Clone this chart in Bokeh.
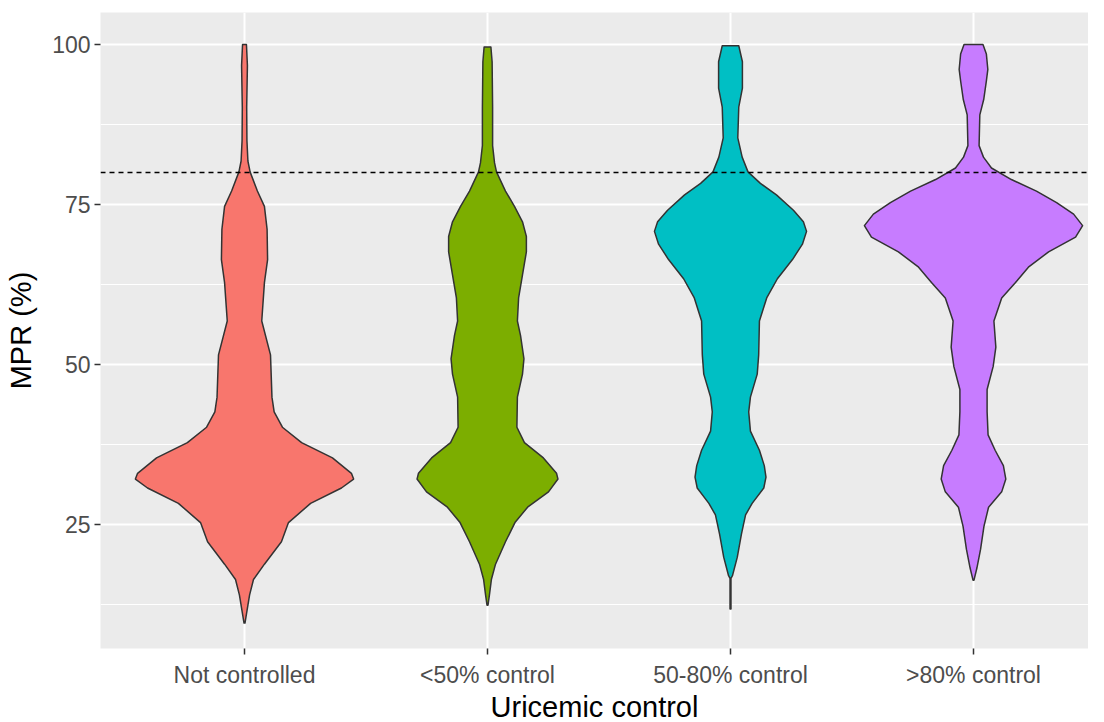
from bokeh.plotting import figure
from bokeh.models import FixedTicker, Span, Range1d
from bokeh.embed import file_html
from bokeh.resources import INLINE

# ---- data ----
categories = ["Not controlled", "<50% control", "50-80% control", ">80% control"]
colors = ["#F8766D", "#7CAE00", "#00BFC4", "#C77CFF"]

# MPR levels (%) and violin half-widths (fraction of one category slot)
mpr_not = [100.0, 96.7, 90.2, 85.0, 81.8, 80.1, 77.1, 74.7, 71.1, 66.4, 62.8, 56.8, 51.5,
           44.9, 42.6, 40.2, 37.8, 35.4, 33.0, 32.1, 30.7, 28.3, 25.3, 22.3, 18.8, 16.4,
           14.0, 11.0, 9.6]
hw_not = [0.008, 0.012, 0.009, 0.010, 0.014, 0.023, 0.053, 0.082, 0.093, 0.095, 0.082,
          0.071, 0.107, 0.113, 0.122, 0.156, 0.235, 0.362, 0.440, 0.449, 0.399, 0.272,
          0.181, 0.152, 0.082, 0.037, 0.021, 0.008, 0.002]

mpr_lt50 = [99.6, 97.3, 90.2, 84.2, 81.5, 80.1, 77.1, 74.7, 72.3, 70.0, 67.6, 64.0, 60.4,
            56.8, 54.5, 50.9, 48.5, 44.9, 40.2, 37.8, 35.4, 33.0, 32.1, 30.1, 27.7, 25.3,
            22.3, 18.8, 16.4, 14.0, 12.4]
hw_lt50 = [0.014, 0.019, 0.021, 0.021, 0.029, 0.037, 0.074, 0.111, 0.144, 0.160, 0.160,
           0.144, 0.128, 0.123, 0.136, 0.150, 0.144, 0.123, 0.121, 0.152, 0.230, 0.284,
           0.290, 0.251, 0.165, 0.113, 0.074, 0.033, 0.016, 0.008, 0.002]

mpr_50_80 = [99.8, 97.3, 93.2, 90.2, 85.4, 82.4, 80.1, 78.3, 76.5, 74.1, 72.3, 70.8, 68.8,
             66.4, 63.4, 60.4, 56.8, 51.5, 48.5, 44.9, 42.6, 39.6, 36.6, 34.2, 32.4, 30.7,
             28.3, 26.5, 23.5, 19.9, 17.0, 16.6, 11.8]
hw_50_80 = [0.034, 0.049, 0.049, 0.034, 0.030, 0.048, 0.072, 0.123, 0.189, 0.259, 0.300,
            0.313, 0.296, 0.255, 0.193, 0.149, 0.119, 0.116, 0.110, 0.082, 0.075, 0.082,
            0.119, 0.139, 0.146, 0.137, 0.089, 0.062, 0.045, 0.028, 0.008, 0.002, 0.002]

mpr_gt80 = [100.0, 98.5, 96.1, 94.3, 91.4, 89.0, 84.2, 82.4, 80.7, 78.9, 77.1, 75.3, 73.5,
            71.7, 69.9, 67.6, 65.2, 62.8, 60.4, 56.8, 52.7, 49.7, 46.1, 42.6, 39.0, 36.6,
            34.2, 32.1, 30.1, 27.7, 24.7, 21.1, 18.2, 16.3]
hw_gt80 = [0.039, 0.053, 0.059, 0.053, 0.042, 0.026, 0.023, 0.041, 0.074, 0.156, 0.259,
           0.342, 0.412, 0.449, 0.420, 0.309, 0.226, 0.173, 0.116, 0.084, 0.092, 0.081,
           0.056, 0.056, 0.060, 0.089, 0.123, 0.133, 0.116, 0.062, 0.043, 0.029, 0.014,
           0.002]

y_ticks = [25, 50, 75, 100]
y_minor = [12.5, 37.5, 62.5, 87.5]
threshold = 80

levels = [mpr_not, mpr_lt50, mpr_50_80, mpr_gt80]
widths = [hw_not, hw_lt50, hw_50_80, hw_gt80]

# ---- figure ----
px_per_unit = 6.4
px_per_cat = 243.0
frame_w = 988
frame_h = 636
y_top = 105.0
x_left = 0.4074
p = figure(frame_width=frame_w, frame_height=frame_h, output_backend="svg",
           toolbar_location=None,
           x_range=Range1d(x_left, x_left + frame_w / px_per_cat),
           y_range=Range1d(y_top - frame_h / px_per_unit, y_top),
           min_border_left=100, min_border_right=0, min_border_top=12, min_border_bottom=0,
           background_fill_color="#EBEBEB", border_fill_color="white",
           outline_line_color=None)

for i, (lv, hw, col) in enumerate(zip(levels, widths, colors)):
    pos = i + 1
    pts = sorted(zip(lv, hw))
    ys = [a for a, _ in pts]
    ws = [b for _, b in pts]
    xs = [pos + w for w in ws] + [pos - w for w in reversed(ws)]
    yy = ys + list(reversed(ys))
    p.patch(xs, yy, fill_color=col, line_color="#333333", line_width=1.5,
            line_join="round")

p.add_layout(Span(location=threshold, dimension="width", line_color="black",
                  line_dash="5 4", line_width=1.4))

# axes
p.xaxis.ticker = FixedTicker(ticks=[1, 2, 3, 4], minor_ticks=[])
p.xaxis.major_label_overrides = {i + 1: c for i, c in enumerate(categories)}
p.yaxis.ticker = FixedTicker(ticks=y_ticks, minor_ticks=y_minor)

for ax in (p.xaxis[0], p.yaxis[0]):
    ax.axis_line_color = None
    ax.major_tick_line_color = "#333333"
    ax.major_tick_line_width = 1.5
    ax.major_tick_out = 6
    ax.major_tick_in = 0
    ax.minor_tick_line_color = None
    ax.major_label_text_color = "#4D4D4D"
    ax.major_label_text_font = "Liberation Sans"
    ax.major_label_text_font_size = "23px"
    ax.axis_label_text_font = "Liberation Sans"
    ax.axis_label_text_font_size = "29px"
    ax.axis_label_text_font_style = "normal"
    ax.axis_label_text_color = "black"

p.xaxis.axis_label = "Uricemic control"
p.yaxis.axis_label = "MPR (%)"
p.xaxis.major_label_standoff = 7
p.xaxis.axis_label_standoff = 0
p.yaxis.major_label_standoff = 4
p.yaxis.axis_label_standoff = 12

p.xgrid.grid_line_color = "white"
p.xgrid.grid_line_width = 2
p.ygrid.grid_line_color = "white"
p.ygrid.grid_line_width = 2
p.ygrid.minor_grid_line_color = "white"
p.ygrid.minor_grid_line_width = 1

open("out.html", "w").write(file_html(p, INLINE))
